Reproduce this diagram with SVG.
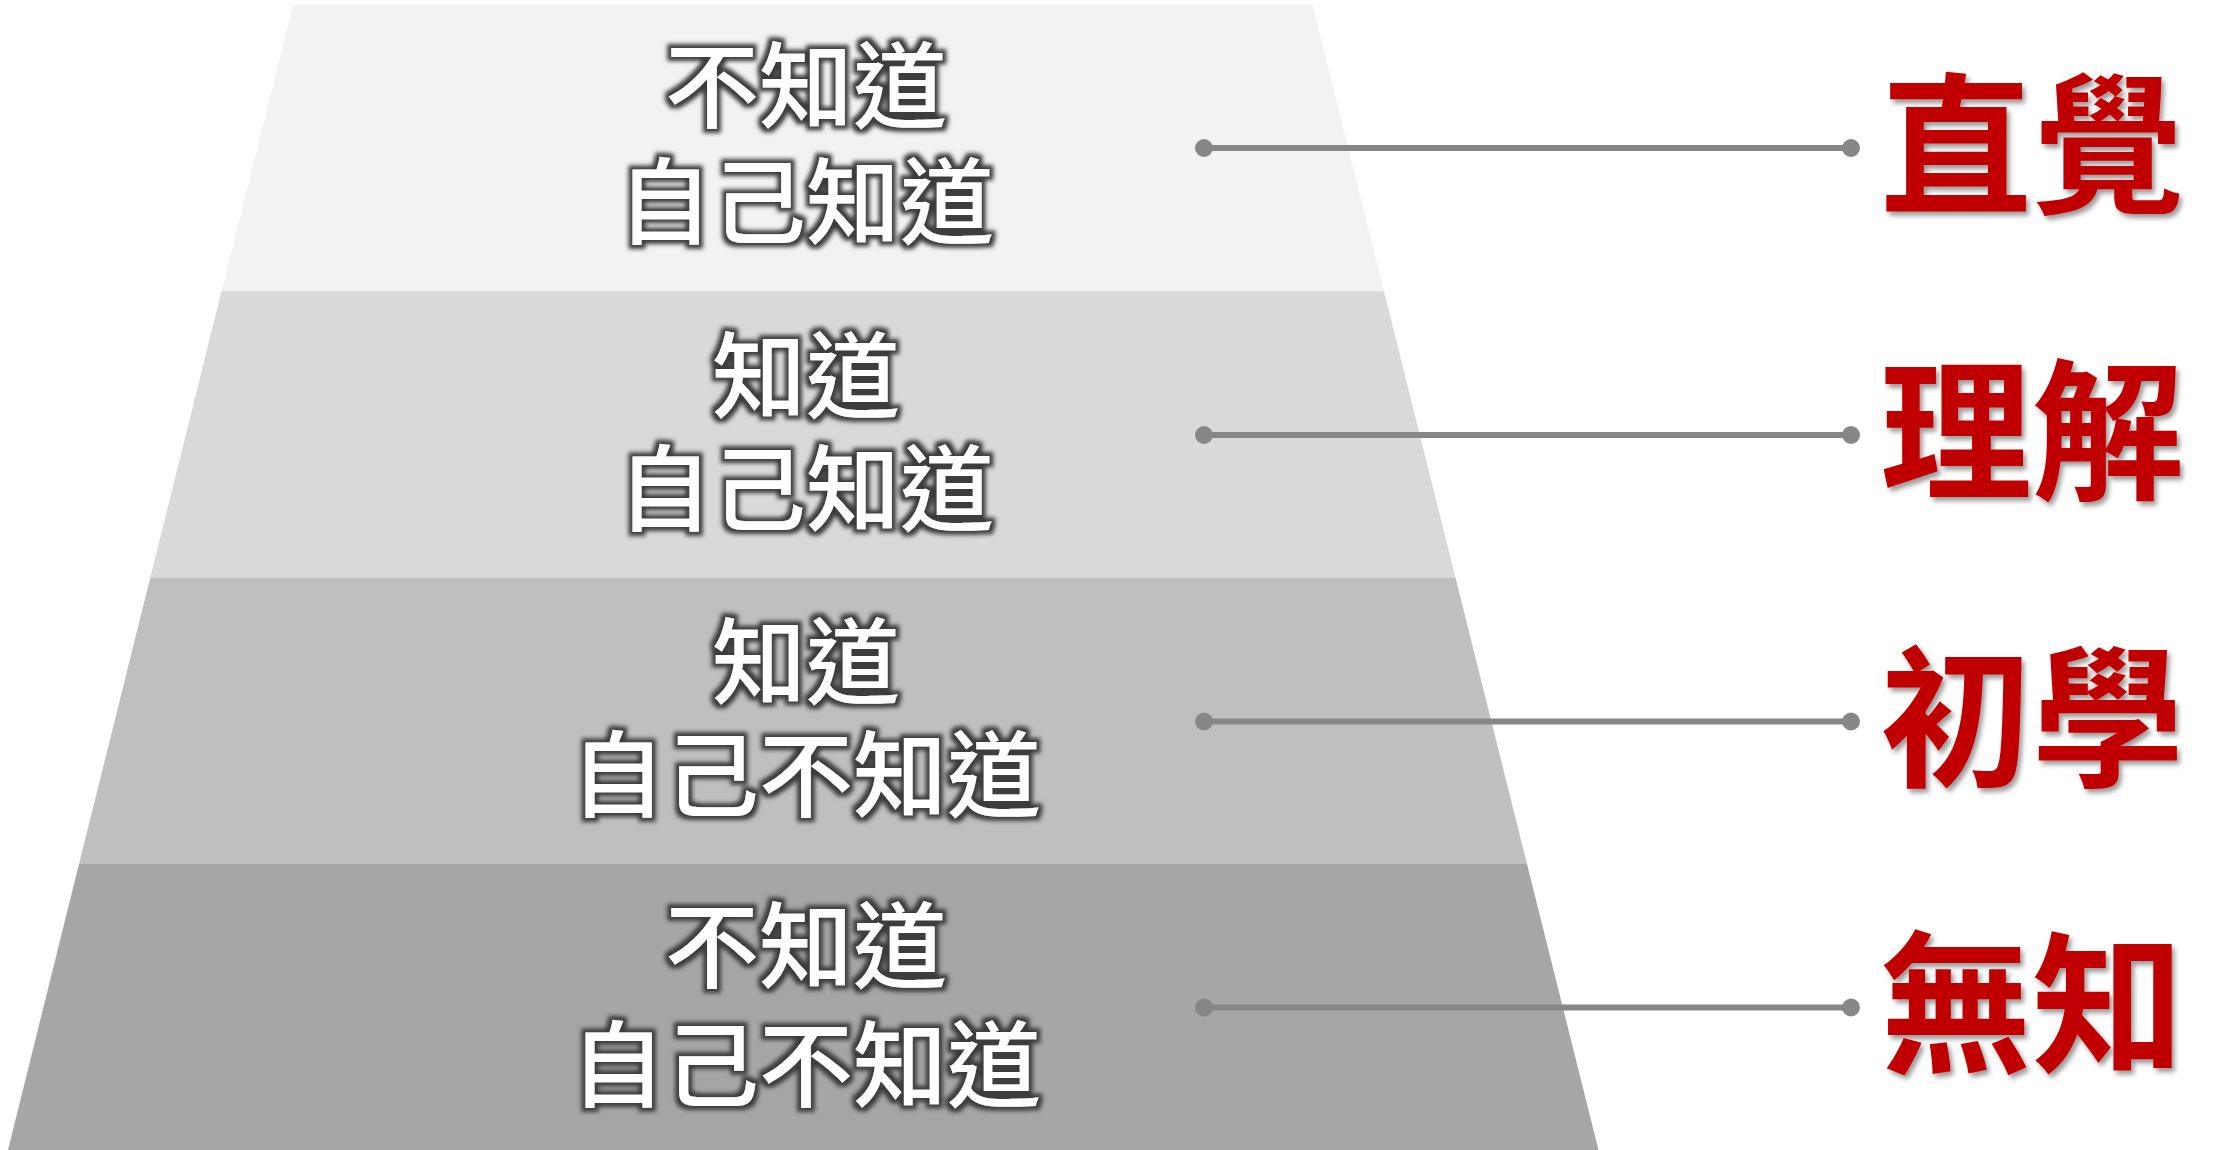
<svg xmlns="http://www.w3.org/2000/svg" width="2220" height="1150" viewBox="0 0 2220 1150">
  <defs>
    <filter id="glow" x="-10%" y="-20%" width="120%" height="140%">
      <feMorphology in="SourceAlpha" operator="dilate" radius="4" result="d"/>
      <feGaussianBlur in="d" stdDeviation="2" result="b"/>
      <feFlood flood-color="#3c3c3c" flood-opacity="1"/>
      <feComposite in2="b" operator="in" result="g"/>
      <feMerge><feMergeNode in="g"/><feMergeNode in="SourceGraphic"/></feMerge>
    </filter>
    <filter id="shadow" x="-10%" y="-10%" width="130%" height="130%">
      <feDropShadow dx="3" dy="4" stdDeviation="2.5" flood-color="#000000" flood-opacity="0.4"/>
    </filter>
  </defs>
  <style>
    .layer-text { font-family: "Noto Sans CJK TC", "Noto Sans CJK SC", sans-serif; font-size: 94px; font-weight: 500; fill: #FFFFFF; text-anchor: middle; filter: url(#glow); }
    .label { font-family: "Noto Sans CJK TC", "Noto Sans CJK SC", sans-serif; font-size: 152px; font-weight: 700; fill: #C00000; text-anchor: middle; filter: url(#shadow); }
    .conn { stroke: #878787; stroke-width: 6; fill: none; }
    .dot { fill: #878787; }
  </style>
  <rect width="2220" height="1150" fill="#FFFFFF"/>

  <g id="layer1">
    <polygon points="293,5 1312.5,5 1384,291.3 221.5,291.3" fill="#F2F2F2"/>
    <text class="layer-text" x="806" y="121">不知道<tspan x="806" dy="116">自己知道</tspan></text>
  </g>
  <g id="layer2">
    <polygon points="221.5,291.3 1384,291.3 1455.5,577.6 150.3,577.6" fill="#D9D9D9"/>
    <text class="layer-text" x="806" y="411">知道<tspan x="806" dy="113">自己知道</tspan></text>
  </g>
  <g id="layer3">
    <polygon points="150.3,577.6 1455.5,577.6 1527,864 79,864" fill="#BFBFBF"/>
    <text class="layer-text" x="806" y="697">知道<tspan x="806" dy="113">自己不知道</tspan></text>
  </g>
  <g id="layer4">
    <polygon points="79,864 1527,864 1598.5,1150 8,1150" fill="#A6A6A6"/>
    <text class="layer-text" x="806" y="981">不知道<tspan x="806" dy="119">自己不知道</tspan></text>
  </g>

  <g id="connectors">
    <line class="conn" x1="1204" y1="148" x2="1851" y2="148"/>
    <circle class="dot" cx="1204" cy="148" r="9"/>
    <circle class="dot" cx="1851" cy="148" r="9"/>
    <line class="conn" x1="1204" y1="435" x2="1851" y2="435"/>
    <circle class="dot" cx="1204" cy="435" r="9"/>
    <circle class="dot" cx="1851" cy="435" r="9"/>
    <line class="conn" x1="1204" y1="721.5" x2="1851" y2="721.5"/>
    <circle class="dot" cx="1204" cy="721.5" r="9"/>
    <circle class="dot" cx="1851" cy="721.5" r="9"/>
    <line class="conn" x1="1204" y1="1007.5" x2="1851" y2="1007.5"/>
    <circle class="dot" cx="1204" cy="1007.5" r="9"/>
    <circle class="dot" cx="1851" cy="1007.5" r="9"/>
  </g>

  <g id="label1"><text class="label" x="2032" y="202">直覺</text></g>
  <g id="label2"><text class="label" x="2032" y="488">理解</text></g>
  <g id="label3"><text class="label" x="2032" y="775">初學</text></g>
  <g id="label4"><text class="label" x="2032" y="1061">無知</text></g>
</svg>
